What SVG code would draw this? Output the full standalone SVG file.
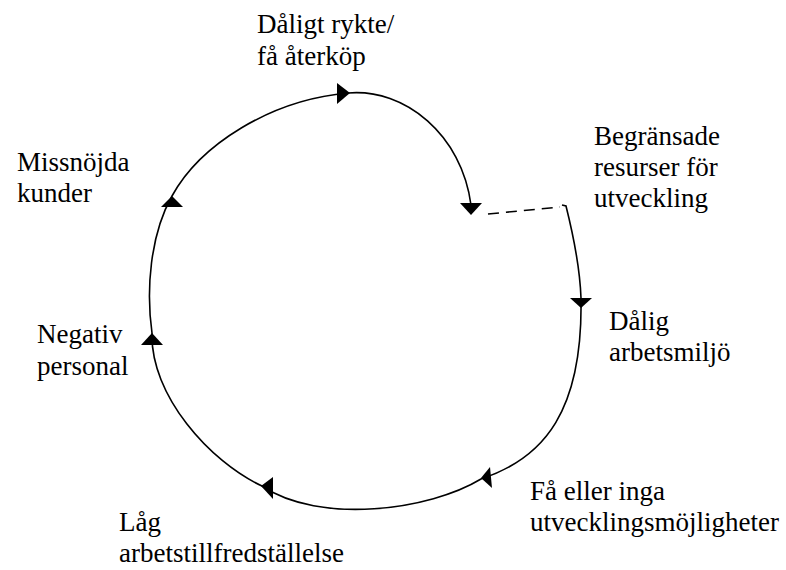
<svg xmlns="http://www.w3.org/2000/svg" width="786" height="570" viewBox="0 0 786 570">
<style>
text{font-family:"Liberation Serif","Times New Roman",serif;font-size:27px;fill:#000}
.ln{fill:none;stroke:#000;stroke-width:1.6}
.ar{fill:#000}
</style>
<rect width="786" height="570" fill="#fff"/>
<g id="connectors">
<path class="ln" d="M348,93 C405,88 462,135 471,205"/>
<path class="ln" d="M488,214 L560,207" stroke-dasharray="11 7"/>
<path class="ln" d="M562,205 L566,206 C572,230 580,270 581,298 C583,410 545,458 481,479 C430,510 320,525 262,486 C210,462 150,395 152,333 C146,290 150,235 172,196 C200,145 270,100 348,93"/>
<polygon class="ar" points="337,83 350,93 337,104"/>
<polygon class="ar" points="460,203 482,203 471,215"/>
<polygon class="ar" points="570,298 592,298 581,308"/>
<polygon class="ar" points="481,478 490,467 492,488"/>
<polygon class="ar" points="261,486 273,477 273,499"/>
<polygon class="ar" points="141,345 163,345 152,333"/>
<polygon class="ar" points="161,207 183,207 172,196"/>
</g>
<g id="n-rykte"><text x="257" y="33">Dåligt rykte/</text><text x="257" y="65">få återköp</text></g>
<g id="n-resurser"><text x="594" y="145">Begränsade</text><text x="594" y="176">resurser för</text><text x="594" y="207">utveckling</text></g>
<g id="n-miljo"><text x="609" y="330">Dålig</text><text x="609" y="361">arbetsmiljö</text></g>
<g id="n-utv"><text x="530" y="500">Få eller inga</text><text x="530" y="531">utvecklingsmöjligheter</text></g>
<g id="n-lag"><text x="119" y="531">Låg</text><text x="119" y="562">arbetstillfredställelse</text></g>
<g id="n-negativ"><text x="37" y="343">Negativ</text><text x="37" y="375">personal</text></g>
<g id="n-kunder"><text x="17" y="171">Missnöjda</text><text x="17" y="202">kunder</text></g>
</svg>
